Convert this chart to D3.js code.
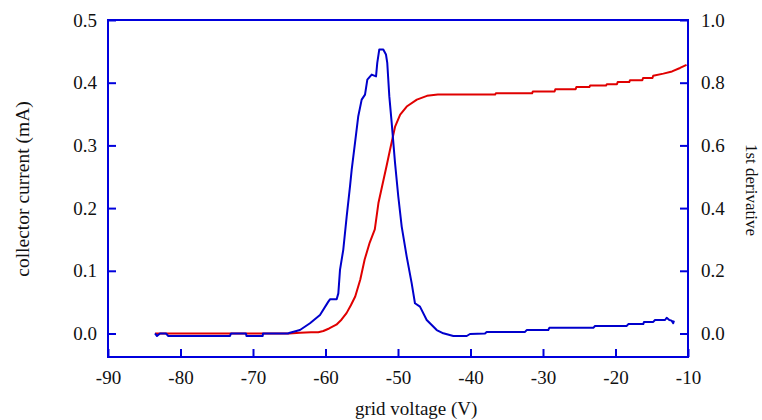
<!DOCTYPE html>
<html>
<head>
<meta charset="utf-8">
<script src="https://cdn.jsdelivr.net/npm/d3@7"></script>
<style>
  html, body { margin: 0; padding: 0; background: #fff; }
  svg { display: block; }
  svg text { font-family: "Liberation Serif", Tinos, "Nimbus Roman", "DejaVu Serif", serif; }
</style>
</head>
<body>
<svg id="chart" width="762" height="420"></svg>
<script>
// Collector current vs grid voltage
const currentVolts = [-83.5, -65.0, -63.5, -62.0, -61.0, -60.3, -59.5, -58.5, -57.8, -57.1,
  -56.5, -55.9, -55.2, -54.6, -53.9, -53.2, -52.7, -52.2, -51.6, -51.1,
  -50.4, -49.7, -48.8, -47.4, -46.0, -44.5, -36.6, -36.5, -31.5, -31.4,
  -28.4, -28.3, -25.5, -25.4, -23.6, -23.5, -21.3, -21.2, -19.8, -19.7,
  -18.1, -18.0, -16.3, -16.2, -14.9, -14.8, -13.4, -12.2, -11.1, -10.2];
const currentMilliamps = [0.0, 0.0, 0.001, 0.002, 0.002, 0.004, 0.008, 0.014, 0.022, 0.0325,
  0.045, 0.059, 0.086, 0.118, 0.145, 0.166, 0.208, 0.2345, 0.266, 0.293,
  0.33, 0.349, 0.362, 0.373, 0.379, 0.381, 0.381, 0.383, 0.383, 0.386,
  0.386, 0.3895, 0.3895, 0.393, 0.393, 0.3955, 0.3955, 0.3975, 0.3975, 0.401,
  0.401, 0.404, 0.404, 0.4075, 0.4075, 0.411, 0.4145, 0.418, 0.4235, 0.4285];

// First derivative of the current
const derivVolts = [-83.52, -83.24, -82.83, -82.0, -81.68, -73.17, -73.03, -70.97, -70.9, -68.66,
  -68.62, -65.17, -64.9, -63.52, -62.14, -60.76, -59.61, -59.38, -58.46, -58.23,
  -58.0, -57.55, -57.08, -56.62, -56.39, -55.93, -55.48, -55.01, -54.55, -54.23,
  -53.63, -53.03, -52.86, -52.58, -52.03, -51.66, -51.48, -51.2, -50.87, -50.41,
  -49.96, -49.49, -48.8, -48.11, -47.66, -46.97, -46.04, -44.66, -43.75, -42.37,
  -40.52, -40.07, -38.0, -37.77, -32.48, -32.25, -29.27, -29.13, -23.06, -22.83,
  -18.45, -18.23, -16.17, -16.07, -14.79, -14.55, -13.17, -12.94, -12.58, -12.26,
  -12.04, -11.94];
const derivValues = [0.0, -0.008, 0.0, 0.0, -0.008, -0.008, 0.0, 0.0, -0.008, -0.008,
  0.0, 0.0, 0.0026, 0.011, 0.0326, 0.059, 0.1016, 0.109, 0.109, 0.128,
  0.203, 0.267, 0.373, 0.469, 0.522, 0.608, 0.693, 0.746, 0.762, 0.81,
  0.826, 0.82, 0.863, 0.906, 0.906, 0.89, 0.863, 0.757, 0.672, 0.544,
  0.437, 0.341, 0.245, 0.16, 0.0965, 0.0856, 0.043, 0.011, 0.0006, -0.008,
  -0.008, -0.0016, 0.0, 0.005, 0.005, 0.011, 0.011, 0.018, 0.018, 0.024,
  0.024, 0.03, 0.03, 0.037, 0.037, 0.043, 0.043, 0.05, 0.043, 0.041,
  0.033, 0.041];

const xTicks = [-90, -80, -70, -60, -50, -40, -30, -20, -10];
const leftTicks = [0.0, 0.1, 0.2, 0.3, 0.4, 0.5];
const rightTicks = [0.0, 0.2, 0.4, 0.6, 0.8, 1.0];

const plotLeft = 108, plotRight = 688, plotTop = 20, plotBottom = 357;
const axisColor = "#0000dd";
const serif = '"Liberation Serif", Tinos, "Nimbus Roman", "DejaVu Serif", serif';

const svg = d3.select("#chart");

const x = d3.scaleLinear().domain([-90, -10]).range([plotLeft, plotRight]);
const yL = d3.scaleLinear().domain([-0.0375, 0.5]).range([plotBottom, plotTop]);
const yR = d3.scaleLinear().domain([-0.075, 1.0]).range([plotBottom, plotTop]);

// curves
const currentPts = currentVolts.map((v, i) => [v, currentMilliamps[i]]);
const derivPts = derivVolts.map((v, i) => [v, derivValues[i]]);

svg.append("path")
  .datum(currentPts)
  .attr("fill", "none")
  .attr("stroke", "#e00000")
  .attr("stroke-width", 2)
  .attr("stroke-linejoin", "round")
  .attr("d", d3.line().x(d => x(d[0])).y(d => yL(d[1])));

svg.append("path")
  .datum(derivPts)
  .attr("fill", "none")
  .attr("stroke", "#0000cc")
  .attr("stroke-width", 2)
  .attr("stroke-linejoin", "round")
  .attr("d", d3.line().x(d => x(d[0])).y(d => yR(d[1])));

// axes with inward ticks; plain hyphen for negative labels
function styleAxis(g) {
  g.attr("font-family", serif).attr("font-size", 19);
  g.select(".domain").remove();
  g.selectAll(".tick line").attr("stroke", axisColor).attr("stroke-width", 2);
  g.selectAll(".tick text").attr("fill", "#111");
}
const intLabel = d => String(d);
const decLabel = d => d.toFixed(1);

svg.append("g")
  .attr("transform", `translate(0,${plotBottom})`)
  .call(d3.axisBottom(x).tickValues(xTicks).tickSize(-8).tickPadding(14).tickFormat(intLabel))
  .call(styleAxis);

svg.append("g")
  .attr("transform", `translate(${plotLeft},0)`)
  .call(d3.axisLeft(yL).tickValues(leftTicks).tickSize(-8).tickPadding(11).tickFormat(decLabel))
  .call(styleAxis);

svg.append("g")
  .attr("transform", `translate(${plotRight},0)`)
  .call(d3.axisRight(yR).tickValues(rightTicks).tickSize(-8).tickPadding(13).tickFormat(decLabel))
  .call(styleAxis);

// frame
svg.append("rect")
  .attr("x", plotLeft).attr("y", plotTop)
  .attr("width", plotRight - plotLeft).attr("height", plotBottom - plotTop)
  .attr("fill", "none").attr("stroke", axisColor).attr("stroke-width", 2);

// axis titles
svg.append("text")
  .attr("x", 355).attr("y", 415)
  .attr("text-anchor", "start")
  .attr("font-size", 19).attr("fill", "#111")
  .text("grid voltage (V)");

svg.append("text")
  .attr("transform", "translate(29,189) rotate(-90)")
  .attr("text-anchor", "middle")
  .attr("font-size", 19.5).attr("fill", "#111")
  .text("collector current (mA)");

svg.append("text")
  .attr("transform", "translate(746,190) rotate(90)")
  .attr("text-anchor", "middle")
  .attr("font-size", 17).attr("fill", "#111")
  .text("1st derivative");
</script>
</body>
</html>
